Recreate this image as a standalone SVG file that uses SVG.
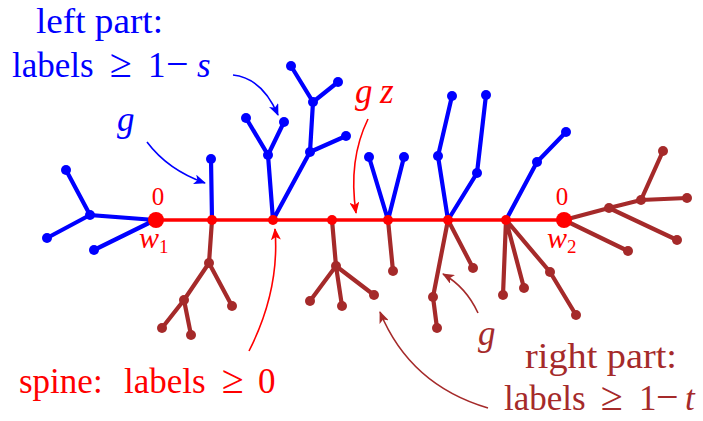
<svg xmlns="http://www.w3.org/2000/svg" width="703" height="421" viewBox="0 0 703 421">
<defs>
<style>
.b{stroke:#0000ff;stroke-width:4.2;fill:none;stroke-linecap:round}
.r{stroke:#a52a2a;stroke-width:4.2;fill:none;stroke-linecap:round}
.s{stroke:#ff0000;stroke-width:3.5;fill:none}
.bd{fill:#0000ff}
.rd{fill:#a52a2a}
.sd{fill:#ff0000}
.t{font-family:"Liberation Serif","DejaVu Serif",serif;font-size:35px}
.i{font-style:italic}
.ge{font-size:40px}
.mi{font-size:40px}
.ab{stroke:#0000ff;stroke-width:1.6;fill:none}
.ar{stroke:#ff0000;stroke-width:1.6;fill:none}
.am{stroke:#a52a2a;stroke-width:1.6;fill:none}
</style>
<marker id="mb" viewBox="0 0 12 10" refX="11" refY="5" markerWidth="12" markerHeight="10" markerUnits="userSpaceOnUse" orient="auto"><path d="M0,0 L12,5 L0,10 L3,5 Z" fill="#0000ff"/></marker>
<marker id="mr" viewBox="0 0 12 10" refX="11" refY="5" markerWidth="12" markerHeight="10" markerUnits="userSpaceOnUse" orient="auto"><path d="M0,0 L12,5 L0,10 L3,5 Z" fill="#ff0000"/></marker>
<marker id="mm" viewBox="0 0 12 10" refX="11" refY="5" markerWidth="12" markerHeight="10" markerUnits="userSpaceOnUse" orient="auto"><path d="M0,0 L12,5 L0,10 L3,5 Z" fill="#a52a2a"/></marker>
</defs>
<rect width="703" height="421" fill="#ffffff"/>

<g id="connectors">
<g id="left-edges">
<path class="b" d="M155,220 L90,215 L66,170 M90,215 L47,238 M155,220 L94,250"/>
<path class="b" d="M212,220 L211,159"/>
<path class="b" d="M273,220 L268,155 L246,118 M268,155 L284,122 M273,220 L310,152 L346,136 M310,152 L313,102 L291,66 M313,102 L338,82"/>
<path class="b" d="M388,220 L369,157 M388,220 L404,157"/>
<path class="b" d="M448,220 L438,156 L452,96 M448,220 L477,173 L486,95"/>
<path class="b" d="M506,220 L537,162 L566,132"/>
</g>
<g id="right-edges">
<path class="r" d="M212,220 L209,263 L184,300 L162,328 M184,300 L191,335 M209,263 L232,306"/>
<path class="r" d="M332,220 L336,266 L310,301 M336,266 L342,306 M336,266 L374,295"/>
<path class="r" d="M388,220 L393,271"/>
<path class="r" d="M448,220 L433,297 L437,328 M448,220 L473,268"/>
<path class="r" d="M506,220 L503,295 M506,220 L524,288 M506,220 L550,272 L576,315"/>
<path class="r" d="M564,220 L609,208 L641,200 L663,151 M641,200 L687,198 M609,208 L677,240 M564,220 L628,251"/>
</g>
<path id="spine" class="s" d="M155,220 L564,220"/>
<g id="annotation-arrows">
<path class="ab" d="M147,142 Q168,170 205,183" marker-end="url(#mb)"/>
<path class="ab" d="M233,75 Q262,78 278,115" marker-end="url(#mb)"/>
<path class="ar" d="M368,119 Q348,160 356,213" marker-end="url(#mr)"/>
<path class="ar" d="M249,351 Q280,290 275,229" marker-end="url(#mr)"/>
<path class="am" d="M478,313 Q466,287 443,274" marker-end="url(#mm)"/>
<path class="am" d="M488,408 Q410,385 380,312" marker-end="url(#mm)"/>
</g>
</g>

<g id="left-nodes">
<circle class="bd" cx="90" cy="215" r="5"/><circle class="bd" cx="66" cy="170" r="5"/><circle class="bd" cx="47" cy="238" r="5"/><circle class="bd" cx="94" cy="250" r="5"/>
<circle class="bd" cx="211" cy="159" r="5"/>
<circle class="bd" cx="268" cy="155" r="5"/><circle class="bd" cx="246" cy="118" r="5"/><circle class="bd" cx="284" cy="122" r="5"/><circle class="bd" cx="310" cy="152" r="5"/><circle class="bd" cx="346" cy="136" r="5"/><circle class="bd" cx="313" cy="102" r="5"/><circle class="bd" cx="291" cy="66" r="5"/><circle class="bd" cx="338" cy="82" r="5"/>
<circle class="bd" cx="369" cy="157" r="5"/><circle class="bd" cx="404" cy="157" r="5"/>
<circle class="bd" cx="438" cy="156" r="5"/><circle class="bd" cx="452" cy="96" r="5"/><circle class="bd" cx="477" cy="173" r="5"/><circle class="bd" cx="486" cy="95" r="5"/>
<circle class="bd" cx="537" cy="162" r="5"/><circle class="bd" cx="566" cy="132" r="5"/>
</g>
<g id="right-nodes">
<circle class="rd" cx="209" cy="263" r="5"/><circle class="rd" cx="184" cy="300" r="5"/><circle class="rd" cx="162" cy="328" r="5"/><circle class="rd" cx="191" cy="335" r="5"/><circle class="rd" cx="232" cy="306" r="5"/>
<circle class="rd" cx="336" cy="266" r="5"/><circle class="rd" cx="310" cy="301" r="5"/><circle class="rd" cx="342" cy="306" r="5"/><circle class="rd" cx="374" cy="295" r="5"/>
<circle class="rd" cx="393" cy="271" r="5"/>
<circle class="rd" cx="433" cy="297" r="5"/><circle class="rd" cx="437" cy="328" r="5"/><circle class="rd" cx="473" cy="268" r="5"/>
<circle class="rd" cx="503" cy="295" r="5"/><circle class="rd" cx="524" cy="288" r="5"/><circle class="rd" cx="550" cy="272" r="5"/><circle class="rd" cx="576" cy="315" r="5"/>
<circle class="rd" cx="609" cy="208" r="5"/><circle class="rd" cx="641" cy="200" r="5"/><circle class="rd" cx="663" cy="151" r="5"/><circle class="rd" cx="687" cy="198" r="5"/><circle class="rd" cx="677" cy="240" r="5"/><circle class="rd" cx="628" cy="251" r="5"/>
</g>
<g id="spine-nodes">
<circle class="sd" cx="212" cy="220" r="5"/><circle class="sd" cx="273" cy="220" r="5"/><circle class="sd" cx="332" cy="220" r="5"/><circle class="sd" cx="388" cy="220" r="5"/><circle class="sd" cx="448" cy="220" r="5"/><circle class="sd" cx="506" cy="220" r="5"/>
</g>
<g id="w1"><circle class="sd" cx="156" cy="220" r="8"/>
<text class="t" x="158" y="205" text-anchor="middle" fill="#ff0000" style="font-size:25px">0</text>
<text class="t i" x="139" y="248" fill="#ff0000" style="font-size:30px">w<tspan style="font-style:normal;font-size:19px" dy="5">1</tspan></text></g>
<g id="w2"><circle class="sd" cx="564" cy="220" r="8"/>
<text class="t" x="562" y="205" text-anchor="middle" fill="#ff0000" style="font-size:25px">0</text>
<text class="t i" x="547" y="248" fill="#ff0000" style="font-size:30px">w<tspan style="font-style:normal;font-size:19px" dy="5">2</tspan></text></g>

<g id="labels">
<text class="t" x="36" y="33" textLength="127" lengthAdjust="spacingAndGlyphs" fill="#0000ff">left part:</text>
<text class="t" y="77" fill="#0000ff"><tspan x="110" class="ge">≥</tspan><tspan x="12">labels</tspan><tspan x="148">1</tspan><tspan x="166" class="mi">−</tspan><tspan x="197" class="i">s</tspan></text>
<text class="t i" x="117" y="131" fill="#0000ff">g</text>
<text class="t i" y="103" fill="#ff0000"><tspan x="355">g</tspan><tspan x="380">z</tspan></text>
<text class="t i" x="478" y="345" fill="#a52a2a">g</text>
<text class="t" y="393" fill="#ff0000"><tspan x="19">spine:</tspan><tspan x="124">labels</tspan><tspan x="222" class="ge">≥</tspan><tspan x="258">0</tspan></text>
<text class="t" x="525" y="368" textLength="152" lengthAdjust="spacingAndGlyphs" fill="#a52a2a">right part:</text>
<text class="t" y="410" fill="#a52a2a"><tspan x="504">labels</tspan><tspan x="601" class="ge">≥</tspan><tspan x="639">1</tspan><tspan x="656" class="mi">−</tspan><tspan x="685" class="i">t</tspan></text>
</g>
</svg>
